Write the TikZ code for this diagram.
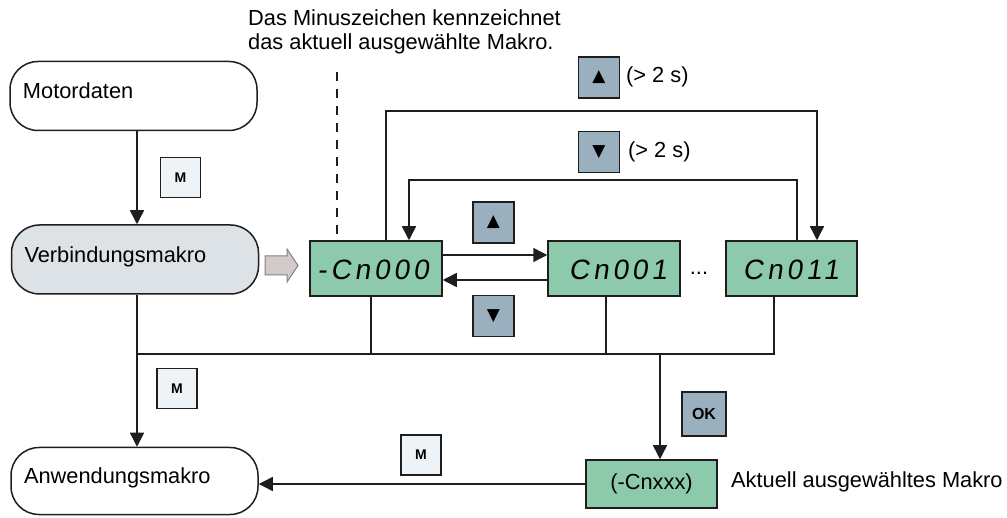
\documentclass[tikz,border=0pt]{standalone}
\usepackage{fontspec}
\setmainfont{Liberation Sans}
\newfontfamily\symfont{DejaVu Sans}
\newfontfamily\segfont[FakeSlant=0.15,LetterSpace=14]{Liberation Sans}
\usetikzlibrary{arrows.meta}
\definecolor{lineblack}{RGB}{30,30,30}
\definecolor{dispgreen}{RGB}{141,202,172}
\definecolor{gfill}{RGB}{155,176,191}
\definecolor{mfill}{RGB}{238,243,248}
\definecolor{verbfill}{RGB}{221,226,231}
\definecolor{harrowfill}{RGB}{212,202,202}
\definecolor{harrowdraw}{RGB}{130,130,130}
\begin{document}
\begin{tikzpicture}[x=1pt,y=-1pt,
  every node/.style={font=\fontsize{21.8}{24}\selectfont, text=black},
  ln/.style={draw=lineblack, line width=1.5pt},
  arr/.style={ln, -{Triangle[length=14pt,width=14pt]}},
  macro/.style={draw=lineblack, line width=1.5pt, rounded corners=28pt, minimum width=247pt, minimum height=69pt, text width=221pt, align=left, inner xsep=13pt, inner ysep=0pt, text depth=10pt},
  disp/.style={draw=lineblack, line width=1.5pt, fill=dispgreen, minimum width=132pt, minimum height=55pt, inner sep=0pt},
  segtext/.style={font=\segfont\fontsize{28}{28}\selectfont},
  mbtn/.style={draw=lineblack, line width=1.3pt, fill=mfill, minimum size=40pt, inner sep=0pt, font=\bfseries\fontsize{14}{14}\selectfont},
  gbtn/.style={draw=lineblack, line width=1.3pt, fill=gfill, minimum size=41pt, inner sep=0pt, font=\symfont\fontsize{17}{17}\selectfont},
  lbl/.style={anchor=west, inner sep=0pt}
]
\useasboundingbox (0,0) rectangle (1007,518);

% macro boxes
\node[macro, fill=white] (mot) at (133.5,96) {Motordaten};
\node[macro, fill=verbfill] (verb) at (135,259.5) {Verbindungsmakro};
\node[macro, fill=white, minimum height=67pt] (anw) at (134.5,481) {Anwendungsmakro};

% M buttons
\node[mbtn] (m1) at (180.5,177.5) {M};
\node[mbtn] (m2) at (177,388.5) {M};
\node[mbtn] (m3) at (421,455) {M};

% hollow arrow
\draw[draw=harrowdraw, line width=1pt, fill=harrowfill]
  (265,256) -- (287,256) -- (287,249) -- (298,265.5) -- (287,282) -- (287,275) -- (265,275) -- cycle;

% displays
\node[disp] (c0) at (376,268.5) {};
\node[segtext] (c0t) at (373,270) {-Cn000};
\node[disp] (c1) at (614,268.5) {};
\node[segtext] (c1t) at (618,270) {Cn001};
\node[disp, minimum width=131pt] (c11) at (791.5,268.5) {};
\node[segtext] (c11t) at (791,270) {Cn011};
\node[inner sep=0pt] (dots) at (699,273) {...};

% gray buttons
\node[gbtn] (upmid) at (493.5,222.5) {▲};
\node[gbtn] (dnmid) at (493.5,316) {▼};
\node[gbtn] (uptop) at (599,77.5) {▲};
\node[lbl] (uptopt) at (626,77) {(> 2 s)};
\node[gbtn] (dntop) at (599,152) {▼};
\node[lbl] (dntopt) at (628,152) {(> 2 s)};
\node[gbtn, minimum size=44pt, font=\bfseries\fontsize{16}{16}\selectfont] (ok) at (704,414) {OK};

% current macro
\node[disp, minimum width=131pt, minimum height=48pt, font=\fontsize{21.8}{24}\selectfont] (cx) at (651.5,484) {(-Cnxxx)};
\node[lbl] (cxt) at (731,482) {Aktuell ausgewähltes Makro};

% note text
\node[lbl, align=left] (note) at (248,32) {Das Minuszeichen kennzeichnet\\das aktuell ausgewählte Makro.};
\coordinate (dsh) at (337,72);
\draw[ln, dash pattern=on 9pt off 8pt] (dsh) -- (c0.north -| dsh);

% coordinates
\coordinate (vx) at (137,0);
\coordinate (o1) at (386,111);
\coordinate (o2) at (817,111);
\coordinate (i1) at (797,180);
\coordinate (i2) at (409,180);
\coordinate (ha) at (0,255);
\coordinate (hb) at (0,280);
\coordinate (b0) at (371,354);
\coordinate (b1) at (606,354);
\coordinate (b11) at (774,354);
\coordinate (bv) at (137,354);
\coordinate (bok) at (660,354);

% connectors
\draw[arr] (mot.south -| vx) -- (verb.north -| vx);
\draw[arr] (verb.south -| vx) -- (anw.north -| vx);
\draw[arr] (c0.north -| o1) -- (o1) -- (o2) -- (c11.north -| o2);
\draw[arr] (c11.north -| i1) -- (i1) -- (i2) -- (c0.north -| i2);
\draw[arr] (c0.east |- ha) -- (c1.west |- ha);
\draw[arr] (c1.west |- hb) -- (c0.east |- hb);
\draw[ln] (c0.south -| b0) -- (b0);
\draw[ln] (c1.south -| b1) -- (b1);
\draw[ln] (c11.south -| b11) -- (b11) -- (bv);
\draw[arr] (bok) -- (cx.north -| bok);
\draw[arr] (cx.west) -- (anw.east |- cx.west);
\end{tikzpicture}
\end{document}
